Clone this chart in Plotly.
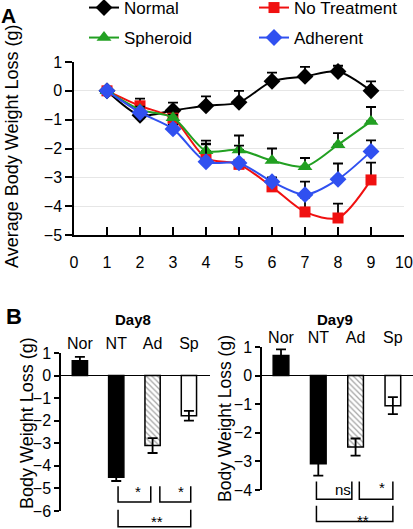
import plotly.graph_objects as go

# ---------------- data ----------------
days = [1, 2, 3, 4, 5, 6, 7, 8, 9]
normal = [0, -0.85, -0.68, -0.52, -0.40, 0.33, 0.50, 0.67, 0.0]
normal_err = [0, 0.30, 0.27, 0.33, 0.40, 0.30, 0.33, 0.20, 0.33]
no_treat = [0, -0.52, -0.95, -2.33, -2.55, -3.33, -4.20, -4.41, -3.09]
no_treat_err = [0, 0.25, 0.20, 0.50, 0.50, 0.30, 0.50, 0.50, 0.60]
spheroid = [0, -0.65, -0.93, -2.08, -2.05, -2.42, -2.63, -1.87, -1.06]
spheroid_err = [0, 0.10, 0.10, 0.35, 0.50, 0.42, 0.30, 0.40, 0.50]
adherent = [0, -0.75, -1.32, -2.46, -2.50, -3.15, -3.60, -3.07, -2.10]
adherent_err = [0, 0.10, 0.15, 0.60, 0.60, 0.15, 0.45, 0.55, 0.38]

groups = ["Nor", "NT", "Ad", "Sp"]
day8 = [0.66, -4.50, -3.10, -1.78]
day8_err = [0.17, 0.17, 0.33, 0.22]
day9 = [0.70, -3.08, -2.50, -1.05]
day9_err = [0.22, 0.42, 0.30, 0.30]

# significance brackets: (x start, x end, y top, y bottom, label, label x, label y)
sig8 = [(1.05, 1.95, -4.9, -5.6, "*", 1.6, -5.15),
        (2.2, 3.05, -4.9, -5.6, "*", 2.78, -5.15),
        (1.05, 3.05, -5.95, -6.7, "**", 2.12, -6.45)]
sig9 = [(0.95, 1.9, -3.7, -4.32, "ns", 1.66, -3.98),
        (2.1, 3.0, -3.7, -4.32, "*", 2.7, -3.9),
        (0.95, 3.0, -4.55, -5.1, "**", 2.2, -5.06)]

W, H = 413, 529
FONT = "Liberation Sans, Arial, sans-serif"

# domains (paper fractions)
xA = [74 / W, 404 / W]
yA = [1 - 235 / H, 1 - 62 / H]
xB1 = [61 / W, 210 / W]
yB1 = [1 - 511 / H, 1 - 353 / H]
xB2 = [262 / W, 1.0]
yB2 = [1 - 490 / H, 1 - 347 / H]
ryA = [-5, 1]
rxB1 = [-0.52, 3.58]
ryB1 = [-6, 1]
rxB2 = [-0.51, 3.54]
ryB2 = [-4, 1]


def to_paper(dom, rng, v):
    return dom[0] + (v - rng[0]) / (rng[1] - rng[0]) * (dom[1] - dom[0])


fig = go.Figure()

err_style = dict(type="data", symmetric=False, color="black", thickness=1.8, width=5)


def series(name, y, err, color, symbol, size, legend):
    fig.add_trace(go.Scatter(
        x=days, y=y, name=name, mode="lines+markers",
        line=dict(color=color, width=2, shape="spline", smoothing=0.8),
        marker=dict(color=color, symbol=symbol, size=size),
        error_y=dict(array=err, arrayminus=[0] * len(err), **err_style),
        xaxis="x", yaxis="y", legend=legend,
    ))


series("Normal", normal, normal_err, "black", "diamond", 13, "legend")
series("No Treatment", no_treat, no_treat_err, "#f01010", "square", 11, "legend")
series("Spheroid", spheroid, spheroid_err, "#22a022", "triangle-up", 13, "legend2")
series("Adherent", adherent, adherent_err, "#3050f0", "diamond", 13, "legend2")

bar_colors = ["black", "black", "white", "white"]
bar_patterns = ["", "", "\\", ""]
for vals, errs, xa, ya in [(day8, day8_err, "x2", "y2"), (day9, day9_err, "x3", "y3")]:
    fig.add_trace(go.Bar(
        x=list(range(len(groups))), y=vals, width=0.42,
        marker=dict(color=bar_colors, line=dict(color="black", width=1.5),
                    pattern=dict(shape=bar_patterns, fgcolor="black", size=4, solidity=0.3)),
        error_y=dict(type="data", array=errs, color="black", thickness=1.8, width=5),
        xaxis=xa, yaxis=ya, showlegend=False,
    ))

CENTER = dict(xanchor="center", yanchor="middle", showarrow=False, xref="paper", yref="paper")

shapes = []
annotations = []
for sig, dom_x, dom_y, rx, ry in [(sig8, xB1, yB1, rxB1, ryB1), (sig9, xB2, yB2, rxB2, ryB2)]:
    for (x0, x1, yt, yb, lab, lx, ly) in sig:
        px0 = to_paper(dom_x, rx, x0)
        px1 = to_paper(dom_x, rx, x1)
        pyt = to_paper(dom_y, ry, yt)
        pyb = to_paper(dom_y, ry, yb)
        shapes.append(dict(type="path", xref="paper", yref="paper",
                           path=f"M {px0} {pyt} L {px0} {pyb} L {px1} {pyb} L {px1} {pyt}",
                           line=dict(color="black", width=1.5)))
        annotations.append(dict(x=to_paper(dom_x, rx, lx), y=to_paper(dom_y, ry, ly),
                                text=lab, font=dict(size=15, color="black", family=FONT),
                                **CENTER))

annotations += [
    dict(x=8 / W, y=1 - 16 / H, text="<b>A</b>",
         font=dict(size=21, color="black", family=FONT), **CENTER),
    dict(x=14 / W, y=1 - 316 / H, text="<b>B</b>",
         font=dict(size=22, color="black", family=FONT), **CENTER),
    dict(x=133 / W, y=1 - 319 / H, text="<b>Day8</b>",
         font=dict(size=15, color="black", family=FONT), **CENTER),
    dict(x=335 / W, y=1 - 319 / H, text="<b>Day9</b>",
         font=dict(size=15, color="black", family=FONT), **CENTER),
    dict(x=12 / W, y=1 - 147 / H, text="Average Body Weight Loss (g)", textangle=-90,
         font=dict(size=18, color="black", family=FONT), **CENTER),
    dict(x=27 / W, y=1 - 423 / H, text="Body Weight Loss (g)", textangle=-90,
         font=dict(size=18, color="black", family=FONT), **CENTER),
    dict(x=225 / W, y=1 - 419 / H, text="Body Weight Loss (g)", textangle=-90,
         font=dict(size=17.5, color="black", family=FONT), **CENTER),
]

tickfont = dict(size=16, color="black", family=FONT)

fig.update_layout(
    width=W, height=H, margin=dict(l=0, r=0, t=0, b=0, autoexpand=False),
    paper_bgcolor="white", plot_bgcolor="white",
    font=dict(family=FONT, color="black"),
    shapes=shapes, annotations=annotations,
    legend=dict(orientation="h", x=84 / W, y=1 + 10 / H, xanchor="left", yanchor="top",
                entrywidth=125, font=dict(size=17, color="black", family=FONT),
                bgcolor="rgba(0,0,0,0)", itemclick=False),
    legend2=dict(orientation="h", x=84 / W, y=1 - 20 / H, xanchor="left", yanchor="top",
                 entrywidth=125, font=dict(size=17, color="black", family=FONT),
                 bgcolor="rgba(0,0,0,0)", itemclick=False),
    xaxis=dict(domain=xA, range=[0, 10], tickvals=list(range(11)), ticks="inside", ticklen=8,
               tickcolor="black", tickwidth=1.5, showline=True, linecolor="black", linewidth=1.5,
               showgrid=False, zeroline=False, tickfont=tickfont, ticklabelstandoff=12, anchor="y"),
    # faint tick marks along the zero line of panel A
    xaxis4=dict(domain=xA, range=[0, 10], tickvals=list(range(11)), ticks="inside", ticklen=5,
                tickcolor="#d4d4d4", tickwidth=1.2, showline=False, showgrid=False,
                zeroline=False, showticklabels=False, overlaying="x", anchor="free",
                position=to_paper(yA, ryA, 0)),
    yaxis=dict(domain=yA, range=ryA, dtick=1, ticks="outside", ticklen=7, tickcolor="black",
               tickwidth=1.5, showline=True, linecolor="black", linewidth=1.5, showgrid=True,
               gridcolor="#e6e6e6", zeroline=False, tickfont=tickfont, anchor="x"),
    xaxis2=dict(domain=xB1, range=rxB1, side="top", tickvals=list(range(4)), ticktext=groups,
                ticks="", showline=False, zeroline=False, showgrid=False, tickfont=tickfont,
                anchor="y2"),
    yaxis2=dict(domain=yB1, range=ryB1, dtick=1, ticks="outside", ticklen=5, tickcolor="black",
                tickwidth=1.5, showline=True, linecolor="black", linewidth=1.5, showgrid=False,
                zeroline=True, zerolinecolor="black", zerolinewidth=1.3, tickfont=tickfont,
                anchor="x2"),
    xaxis3=dict(domain=xB2, range=rxB2, side="top", tickvals=list(range(4)), ticktext=groups,
                ticks="", showline=False, zeroline=False, showgrid=False, tickfont=tickfont,
                anchor="y3"),
    yaxis3=dict(domain=yB2, range=ryB2, dtick=1, ticks="outside", ticklen=5, tickcolor="black",
                tickwidth=1.5, showline=True, linecolor="black", linewidth=1.5, showgrid=False,
                zeroline=True, zerolinecolor="black", zerolinewidth=1.3, tickfont=tickfont,
                anchor="x3"),
)

fig.write_html("out.html", config={"displayModeBar": False},
               post_script="document.body.style.margin='0';document.body.style.overflow='hidden';")
